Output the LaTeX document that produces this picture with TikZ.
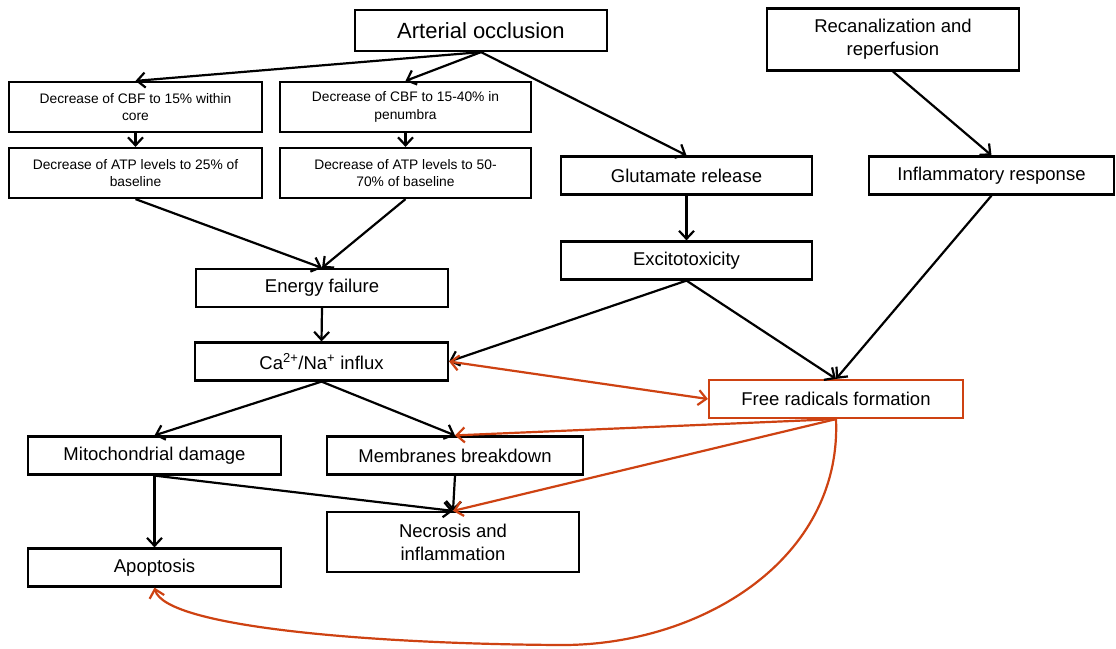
\documentclass[tikz,border=0pt]{standalone}
\usepackage{fontspec}
\setmainfont{Liberation Sans}
\usetikzlibrary{arrows.meta,shadows}
\definecolor{frred}{RGB}{206,66,18}
\begin{document}
\begin{tikzpicture}[x=1pt,y=-1pt,
  box/.style={draw=black, line width=2.2pt, fill=white, inner sep=2pt, align=center,
    drop shadow={shadow xshift=1.2pt, shadow yshift=-1.2pt, fill=black!35, opacity=.7}},
  h1/.style={minimum height=38pt},
  h2/.style={minimum height=50pt},
  fbig/.style={font=\fontsize{22}{26}\selectfont},
  fmed/.style={font=\fontsize{18.5}{23}\selectfont},
  fsmall/.style={font=\fontsize{13.8}{17.5}\selectfont},
  arr/.style={line width=2.2pt, -{Straight Barb[length=8pt,width=15pt]}},
  redarr/.style={draw=frred, line width=2.2pt, -{Straight Barb[length=8pt,width=15pt]}},
  redbi/.style={draw=frred, line width=2.2pt, {Straight Barb[length=8pt,width=15pt]}-{Straight Barb[length=8pt,width=15pt]}}
]
\useasboundingbox (0,0) rectangle (1116,648);
\fill[white] (0,0) rectangle (1116,648);

\node[box,fbig,minimum width=252pt,minimum height=41pt] (occl) at (481,30.5) {Arterial occlusion};
\node[box,fmed,minimum width=252pt,minimum height=62pt] (recan) at (893,39.5) {Recanalization and\\reperfusion};
\node[box,fsmall,minimum width=253pt,h2] (cbf1) at (135.5,107) {Decrease of CBF to 15\% within\\core};
\node[box,fsmall,minimum width=251pt,h2] (cbf2) at (405.5,107) {Decrease of CBF to 15-40\% in\\penumbra};
\node[box,fsmall,minimum width=253pt,h2] (atp1) at (135.5,173) {Decrease of ATP levels to 25\% of\\baseline};
\node[box,fsmall,minimum width=251pt,h2] (atp2) at (405.5,173) {Decrease of ATP levels to 50-\\70\% of baseline};
\node[box,fmed,minimum width=251pt,h1] (glut) at (686.5,175.5) {Glutamate release};
\node[box,fmed,minimum width=245pt,h1] (infl) at (991.5,175.5) {Inflammatory response};
\node[box,fmed,minimum width=252pt,h1] (energy) at (322,288) {Energy failure};
\node[box,fmed,minimum width=251pt,h1] (excito) at (686.5,260.5) {Excitotoxicity};
\node[box,fmed,minimum width=253pt,h1] (ca) at (321.5,361.5) {Ca\textsuperscript{2+}/Na\textsuperscript{+} influx};
\node[box,fmed,draw=frred,minimum width=254pt,h1] (free) at (836,399) {Free radicals formation};
\node[box,fmed,minimum width=253pt,h1] (mito) at (154.5,455.5) {Mitochondrial damage};
\node[box,fmed,minimum width=256pt,h1] (memb) at (455,455.5) {Membranes breakdown};
\node[box,fmed,minimum width=252pt,minimum height=60pt] (necro) at (453,542) {Necrosis and\\inflammation};
\node[box,fmed,minimum width=253pt,h1] (apop) at (154.5,567.5) {Apoptosis};

% black connectors
\draw[arr] (occl.south) -- (cbf1.north);
\draw[arr] (occl.south) -- (cbf2.north);
\draw[arr] (occl.south) -- (glut.north);
\draw[arr] (cbf1.south) -- (atp1.north);
\draw[arr] (cbf2.south) -- (atp2.north);
\draw[arr] (atp1.south) -- (energy.north);
\draw[arr] (atp2.south) -- (energy.north);
\draw[arr] (energy.south) -- (ca.north);
\draw[arr] (glut.south) -- (excito.north);
\draw[arr] (recan.south) -- (infl.north);
\draw[arr] (excito.south) -- (ca.east);
\draw[arr] (excito.south) -- (free.north);
\draw[arr] (infl.south) -- (free.north);
\draw[arr] (ca.south) -- (mito.north);
\draw[arr] (ca.south) -- (memb.north);
\draw[arr] (memb.south) -- (necro.north);
\draw[arr] (mito.south) -- (apop.north);
\draw[arr] (mito.south) -- (necro.north);

% red connectors
\draw[redbi] (ca.east) -- (free.west);
\draw[redarr] (free.south) -- (memb.north);
\draw[redarr] (free.south) -- (necro.north);
\coordinate (low) at (560,645);
\draw[redarr] (free.south) .. controls (842,560) and (700,646) .. (low)
  .. controls (380,644) and (165,628) .. (apop.south);
\end{tikzpicture}
\end{document}
